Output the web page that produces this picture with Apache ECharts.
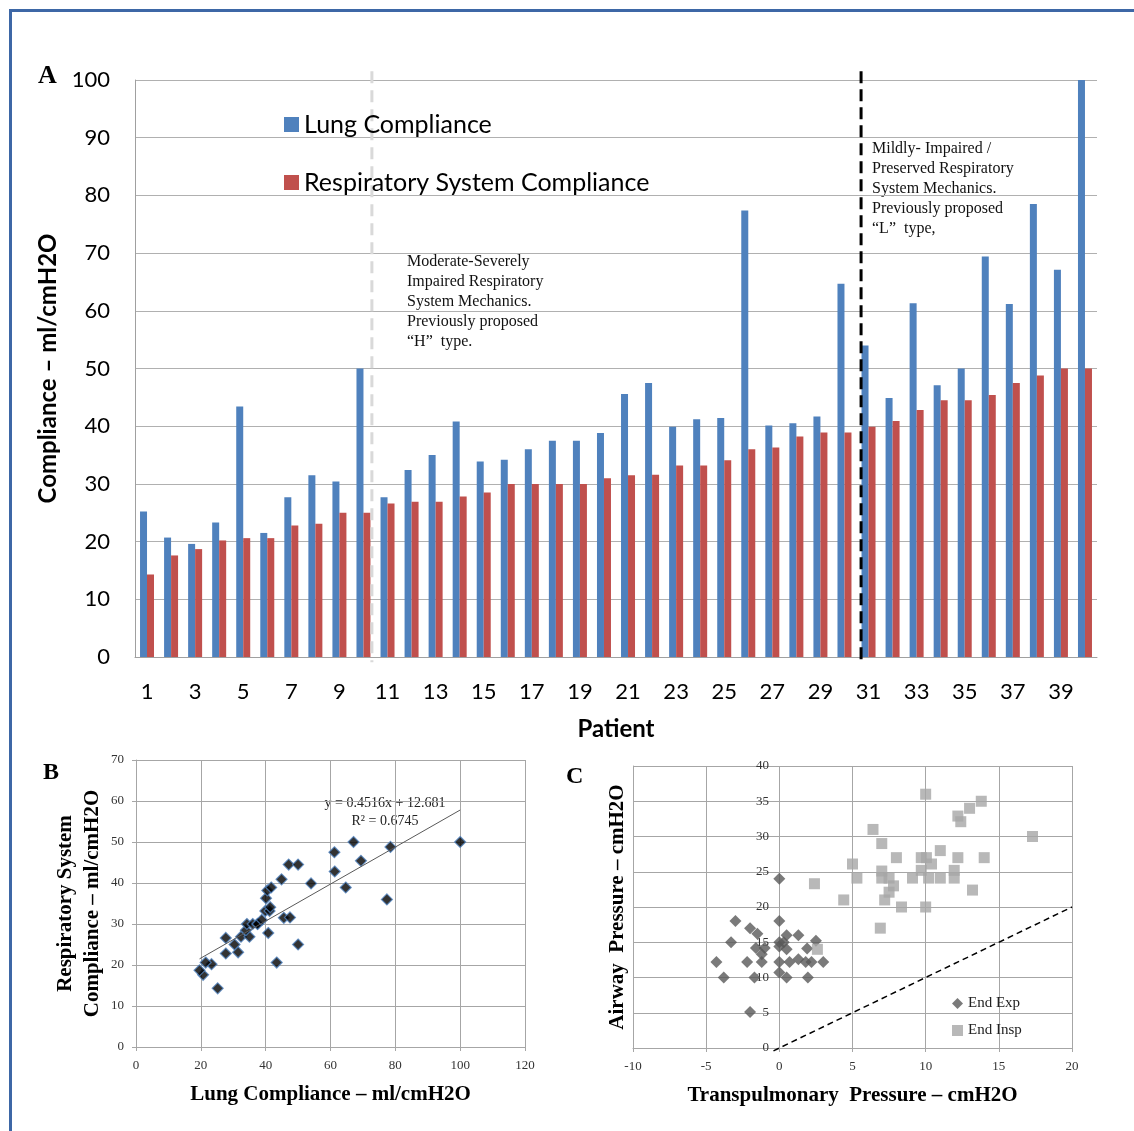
<!DOCTYPE html>
<html lang="en">
<head>
<meta charset="UTF-8">
<title>Compliance</title>
<style>
html, body { margin: 0; padding: 0; background: #fff; }
#main { width: 1134px; height: 1131px; }
</style>
</head>
<body>
<div id="main"></div>
<script src="https://cdn.jsdelivr.net/npm/echarts@6/dist/echarts.min.js"></script>
<script>
// panel A: per patient compliance
var patients = ['1', '2', '3', '4', '5', '6', '7', '8', '9', '10',
  '11', '12', '13', '14', '15', '16', '17', '18', '19', '20',
  '21', '22', '23', '24', '25', '26', '27', '28', '29', '30',
  '31', '32', '33', '34', '35', '36', '37', '38', '39', '40'];
var lungCompliance = [25.2, 20.7, 19.6, 23.3, 43.4, 21.5, 27.7, 31.5, 30.4, 50.0,
  27.7, 32.4, 35.0, 40.8, 33.9, 34.2, 36.0, 37.5, 37.5, 38.8,
  45.6, 47.5, 39.9, 41.2, 41.4, 77.4, 40.1, 40.5, 41.7, 64.7,
  54.0, 44.9, 61.3, 47.1, 50.0, 69.4, 61.2, 78.5, 67.1, 100.0];
var respCompliance = [14.3, 17.6, 18.7, 20.2, 20.6, 20.6, 22.8, 23.1, 25.0, 25.0,
  26.6, 26.9, 26.9, 27.8, 28.5, 30.0, 30.0, 30.0, 30.0, 31.0,
  31.5, 31.6, 33.2, 33.2, 34.1, 36.0, 36.3, 38.2, 38.9, 38.9,
  39.9, 40.9, 42.8, 44.5, 44.5, 45.4, 47.5, 48.8, 50.0, 50.0];
// group dividers (patient position on a 0.5..40.5 scale)
var dividerH = 10.35;
var dividerL = 30.69;

// panel B: regression line
var trendLine = [[19.6, 21.5], [100, 57.8]];
var trendText = 'y = 0.4516x + 12.681\nR² = 0.6745';

// panel C: transpulmonary vs airway pressure
var endExp = [[0, 24], [-3, 18], [0, 18], [-2, 17], [-1.5, 16.2], [-3.3, 15], [0, 15], [0.5, 16],
  [1.3, 16], [2.5, 15.2], [-1.6, 14.2], [-1, 14.2], [0, 14.4], [0.3, 15], [0.5, 14], [1.9, 14.1],
  [-1.2, 13.3], [-4.3, 12.2], [-2.2, 12.2], [-1.2, 12.2], [0, 12.2], [0.7, 12.2], [1.3, 12.6],
  [1.8, 12.2], [2.2, 12.2], [3, 12.2], [-3.8, 10], [-1.7, 10], [0, 10.7], [0.5, 10], [1.95, 10], [-2, 5.1]];
var endInsp = [[10, 36], [13.8, 35], [13, 34], [12.2, 32.9], [12.4, 32.1], [6.4, 31], [17.3, 30], [7, 29],
  [11, 28], [8, 27], [9.7, 27], [10.05, 27], [12.2, 27], [14, 27], [5, 26.1], [10.4, 26.1],
  [7, 25.1], [9.7, 25.2], [11.95, 25.2], [5.3, 24.1], [7, 24.1], [7.5, 24.1], [9.1, 24.1],
  [10.2, 24.1], [11, 24.1], [11.95, 24.1], [2.4, 23.3], [7.8, 23], [7.5, 22.1], [13.2, 22.4],
  [4.4, 21], [7.2, 21], [8.35, 20], [10, 20], [6.9, 17], [2.6, 14]];
var identityLine = [[-0.4, -0.4], [20, 20]];

var SANS = 'Lato';
var SERIF = 'Liberation Serif';
var GRID_COLOR = '#a6a6a6';

var scatterB = [];
for (var i = 0; i < lungCompliance.length; i++) {
  scatterB.push([lungCompliance[i], respCompliance[i]]);
}

var chart = echarts.init(document.getElementById('main'));

var smallAxis = function (opt) {
  var base = {
    type: 'value',
    axisLine: { onZero: false, lineStyle: { color: GRID_COLOR, width: 1 } },
    axisTick: { show: true, length: 4, lineStyle: { color: GRID_COLOR } },
    axisLabel: { fontFamily: SERIF, fontSize: 13, color: '#333', margin: 12 },
    splitLine: { show: true, lineStyle: { color: GRID_COLOR, width: 1 } },
    nameLocation: 'middle',
    nameTextStyle: { fontFamily: SERIF, fontSize: 21, fontWeight: 'bold', color: '#000' }
  };
  return Object.assign(base, opt);
};

var option = {
  animation: false,
  backgroundColor: '#fff',
  grid: [
    { left: 135, top: 80, width: 962, height: 577, outerBoundsMode: 'none' },
    { left: 136, top: 760, width: 389, height: 287, outerBoundsMode: 'none' },
    { left: 633, top: 766, width: 439, height: 282, outerBoundsMode: 'none' }
  ],
  legend: [
    {
      data: [{ name: 'Lung Compliance', icon: 'rect' }, { name: 'Respiratory System Compliance', icon: 'rect' }],
      orient: 'vertical',
      left: 279,
      top: 107,
      itemWidth: 15,
      itemHeight: 15,
      itemGap: 33,
      textStyle: { fontFamily: SANS, fontSize: 25, color: '#000' }
    },
    {
      data: [{ name: 'End Exp', icon: 'diamond' }, { name: 'End Insp', icon: 'rect' }],
      orient: 'vertical',
      left: 947,
      top: 991,
      itemWidth: 11,
      itemHeight: 11,
      itemGap: 12,
      textStyle: { fontFamily: SERIF, fontSize: 15, color: '#222' }
    }
  ],
  xAxis: [
    {
      type: 'category',
      gridIndex: 0,
      data: patients,
      axisLine: { lineStyle: { color: '#a0a0a0' } },
      axisTick: { show: false },
      axisLabel: { interval: 1, fontFamily: SANS, fontSize: 22, color: '#000', margin: 24 },
      name: 'Patient',
      nameLocation: 'middle',
      nameGap: 60,
      nameTextStyle: { fontFamily: SANS, fontSize: 24, fontWeight: 'bold', color: '#000' }
    },
    smallAxis({
      gridIndex: 1, min: 0, max: 120, interval: 20,
      name: 'Lung Compliance – ml/cmH2O', nameGap: 37
    }),
    smallAxis({
      gridIndex: 2, min: -10, max: 20, interval: 5,
      name: 'Transpulmonary  Pressure – cmH2O', nameGap: 37
    }),
    { type: 'value', gridIndex: 0, min: 0.5, max: 40.5, show: false }
  ],
  yAxis: [
    {
      type: 'value',
      gridIndex: 0,
      min: 0,
      max: 100,
      interval: 10,
      axisLine: { show: true, lineStyle: { color: '#a0a0a0' } },
      axisTick: { show: false },
      axisLabel: { fontFamily: SANS, fontSize: 22, color: '#000', margin: 25 },
      splitLine: { lineStyle: { color: '#b0b0b0', width: 1 } },
      name: 'Compliance – ml/cmH2O',
      nameLocation: 'middle',
      nameGap: 75,
      nameTextStyle: { fontFamily: SANS, fontSize: 24, fontWeight: 'bold', color: '#000' }
    },
    smallAxis({
      gridIndex: 1, min: 0, max: 70, interval: 10,
      name: 'Respiratory System\nCompliance – ml/cmH2O', nameGap: 30,
      nameTextStyle: { fontFamily: SERIF, fontSize: 21, fontWeight: 'bold', color: '#000', lineHeight: 27 }
    }),
    // labels sit next to the x = 0 line, so they are pushed inside the grid
    smallAxis({
      gridIndex: 2, min: 0, max: 40, interval: 5,
      axisTick: { show: false },
      axisLabel: { fontFamily: SERIF, fontSize: 13, color: '#333', margin: -136 },
      name: 'Airway  Pressure – cmH2O', nameGap: 5
    })
  ],
  series: [
    {
      name: 'Lung Compliance', type: 'bar', xAxisIndex: 0, yAxisIndex: 0,
      data: lungCompliance, barWidth: 7, barGap: '0%',
      itemStyle: { color: '#4f81bd' }
    },
    {
      name: 'Respiratory System Compliance', type: 'bar', xAxisIndex: 0, yAxisIndex: 0,
      data: respCompliance, barWidth: 7, barGap: '0%',
      itemStyle: { color: '#c0504d' }
    },
    {
      name: 'divH', type: 'line', xAxisIndex: 3, yAxisIndex: 0, clip: false,
      data: [[dividerH, 101.5], [dividerH, -0.9]], symbol: 'none',
      lineStyle: { color: '#d9d9d9', width: 3, type: [12, 7] }
    },
    {
      name: 'divL', type: 'line', xAxisIndex: 3, yAxisIndex: 0, clip: false,
      data: [[dividerL, 101.5], [dividerL, -0.9]], symbol: 'none',
      lineStyle: { color: '#000', width: 3, type: [12, 6] }
    },
    {
      name: 'trend', type: 'line', xAxisIndex: 1, yAxisIndex: 1,
      data: trendLine, symbol: 'none',
      lineStyle: { color: '#595959', width: 1 }
    },
    {
      name: 'Compliance pairs', type: 'scatter', xAxisIndex: 1, yAxisIndex: 1,
      data: scatterB, symbol: 'diamond', symbolSize: 11,
      itemStyle: { color: '#000', borderColor: '#4f81bd', borderWidth: 1.2 }
    },
    {
      name: 'identity', type: 'line', xAxisIndex: 2, yAxisIndex: 2, clip: false,
      data: identityLine, symbol: 'none',
      lineStyle: { color: '#000', width: 1.5, type: [6, 4] }
    },
    {
      name: 'End Exp', type: 'scatter', xAxisIndex: 2, yAxisIndex: 2,
      data: endExp, symbol: 'diamond', symbolSize: 12,
      itemStyle: { color: '#595959' }
    },
    {
      name: 'End Insp', type: 'scatter', xAxisIndex: 2, yAxisIndex: 2,
      data: endInsp, symbol: 'rect', symbolSize: 11,
      itemStyle: { color: '#a6a6a6' }
    }
  ],
  graphic: [
    // figure frame (top and left edges visible)
    { type: 'rect', shape: { x: 9, y: 9, width: 1140, height: 3 }, style: { fill: '#3d67a6' } },
    { type: 'rect', shape: { x: 9, y: 9, width: 3, height: 1140 }, style: { fill: '#3d67a6' } },
    { type: 'text', left: 38, top: 63, style: { text: 'A', font: 'bold 26px "Liberation Serif"', fill: '#000' } },
    { type: 'text', left: 43, top: 761, style: { text: 'B', font: 'bold 24px "Liberation Serif"', fill: '#000' } },
    { type: 'text', left: 566, top: 765, style: { text: 'C', font: 'bold 24px "Liberation Serif"', fill: '#000' } },
    {
      type: 'text', left: 407, top: 252,
      style: {
        text: 'Moderate-Severely\nImpaired Respiratory\nSystem Mechanics.\nPreviously proposed\n“H”  type.',
        font: '16px "Liberation Serif"', lineHeight: 20, fill: '#111'
      }
    },
    {
      type: 'text', left: 872, top: 139,
      style: {
        text: 'Mildly- Impaired /\nPreserved Respiratory\nSystem Mechanics.\nPreviously proposed\n“L”  type,',
        font: '16px "Liberation Serif"', lineHeight: 20, fill: '#111'
      }
    },
    {
      type: 'text', x: 385, y: 794,
      style: {
        text: trendText, font: '14px "Liberation Serif"', lineHeight: 18,
        fill: '#222', align: 'center'
      }
    }
  ]
};

chart.setOption(option);
</script>
</body>
</html>
